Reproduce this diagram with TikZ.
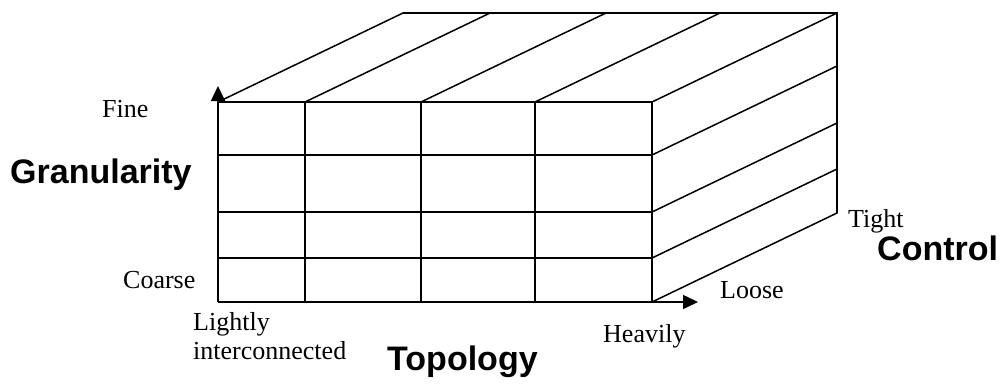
\documentclass[tikz,border=0pt]{standalone}
\usepackage{fontspec}
\setmainfont{Liberation Serif}
\newfontfamily\axisfont{Liberation Sans}
\usetikzlibrary{arrows.meta}
\tikzset{
  gridline/.style={line width=1.5pt, line cap=round},
  axisarrow/.style={line width=1.5pt, -{Triangle[length=15pt,width=14pt]}},
  lbl/.style={font=\fontsize{26}{29}\selectfont, inner sep=0pt, anchor=base west},
  axislbl/.style={font=\axisfont\bfseries\fontsize{34}{38}\selectfont, inner sep=0pt, anchor=base west}
}
\begin{document}
\begin{tikzpicture}[x=1pt,y=-1pt]
\useasboundingbox (0,0) rectangle (1004,383);
% front face corners
\coordinate (o) at (218,302);
\coordinate (ytip) at (218,86);
\coordinate (xtip) at (698,302);
% front grid: vertical lines
\foreach \x in {305,421,535,652} {
  \draw[gridline] (\x,102) -- (\x,302);
}
% front grid: horizontal lines
\foreach \y in {102,155,212,258} {
  \draw[gridline] (218,\y) -- (652,\y);
}
% top face receding lines
\foreach \x in {218,305,421,535,652} {
  \draw[gridline] (\x,102) -- ++(185,-89);
}
% right face receding lines
\foreach \y in {155,212,258,302} {
  \draw[gridline] (652,\y) -- ++(185,-89);
}
% back edges
\coordinate (btl) at (403,13);
\coordinate (btr) at (837,13);
\coordinate (bbr) at (837,213);
\draw[gridline] (btl) -- (btr) -- (bbr);
% axes
\draw[axisarrow] (o) -- (ytip);
\draw[axisarrow] (o) -- (xtip);
% labels
\node[lbl] (fine) at (102,117) {Fine};
\node[axislbl] (gran) at (10,183) {Granularity};
\node[lbl] (coarse) at (123,288) {Coarse};
\node[lbl] (lightly) at (193,330) {Lightly};
\node[lbl] (inter) at (193,359) {interconnected};
\node[axislbl] (topo) at (387,370) {Topology};
\node[lbl] (heavily) at (603,342) {Heavily};
\node[lbl] (loose) at (720,298) {Loose};
\node[lbl] (tight) at (848,227) {Tight};
\node[axislbl] (control) at (877,260) {Control};
\end{tikzpicture}
\end{document}
